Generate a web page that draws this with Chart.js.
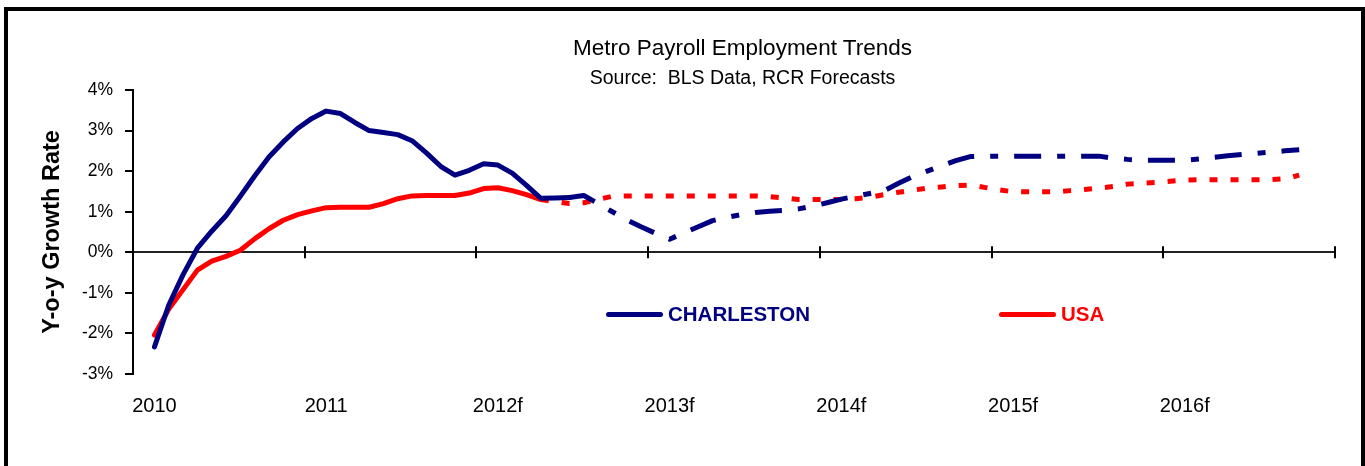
<!DOCTYPE html>
<html>
<head>
<meta charset="utf-8">
<title>Metro Payroll Employment Trends</title>
<script src="https://cdn.jsdelivr.net/npm/chart.js@4/dist/chart.umd.min.js"></script>
<style>
  html, body { margin: 0; padding: 0; background: #fff; overflow: hidden; }
  #wrap { position: relative; width: 1365px; height: 466px; font-family: "Liberation Sans", Arial, sans-serif; }
  #frame { position: absolute; left: 4px; top: 7px; width: 1353px; height: 520px; border: 4px solid #000; }
  #chart { position: absolute; left: 0; top: 0; }
  .head { position: absolute; left: 0; width: 1485px; text-align: center; color: #000; white-space: pre; }
  #title { top: 35px; font-size: 22.5px; }
  #subtitle { top: 66px; font-size: 19.5px; }
  .leg { position: absolute; display: flex; align-items: center; font-weight: bold; font-size: 20.5px; }
  .leg .sw { display: inline-block; width: 57px; height: 5px; border-radius: 3px; margin-right: 5px; }
</style>
</head>
<body>
<div id="wrap">
  <div id="frame"></div>
  <canvas id="chart" width="1365" height="466"></canvas>
  <div id="title" class="head">Metro Payroll Employment Trends</div>
  <div id="subtitle" class="head">Source:  BLS Data, RCR Forecasts</div>
  <div id="legend"></div>
</div>
<script>
// years on the axis, monthly categories
var years = ['2010', '2011', '2012', '2013', '2014', '2015', '2016'];
var yearLabels = ['2010', '2011', '2012f', '2013f', '2014f', '2015f', '2016f'];
var monthNames = ['Jan','Feb','Mar','Apr','May','Jun','Jul','Aug','Sep','Oct','Nov','Dec'];
var yTicks = [-3, -2, -1, 0, 1, 2, 3, 4];

// y-o-y growth %, one row per year (Jan..Dec)
var charleston = [
  null, -2.33, -1.30, -0.55, 0.10, 0.52, 0.90, 1.38, 1.88, 2.35, 2.72, 3.05,
  3.30, 3.48, 3.42, 3.20, 3.00, 2.95, 2.90, 2.75, 2.45, 2.12, 1.90, 2.02,
  2.18, 2.15, 1.95, 1.65, 1.33, 1.34, 1.35, 1.40, 1.20, 1.00, 0.80, 0.63,
  0.47, 0.32, 0.48, 0.63, 0.78, 0.86, 0.93, 0.98, 1.01, 1.03, 1.07, 1.14,
  1.22, 1.31, 1.38, 1.45, 1.52, 1.70, 1.87, 2.00, 2.13, 2.26, 2.36, 2.37,
  2.37, 2.37, 2.37, 2.37, 2.37, 2.37, 2.37, 2.37, 2.32, 2.29, 2.27, 2.27,
  2.27, 2.27, 2.30, 2.34, 2.38, 2.41, 2.44, 2.47, 2.50, 2.53, null, null
];
var usa = [
  null, -2.04, -1.40, -0.92, -0.44, -0.22, -0.10, 0.05, 0.33, 0.58, 0.79, 0.93,
  1.02, 1.10, 1.11, 1.11, 1.11, 1.20, 1.32, 1.39, 1.40, 1.40, 1.40, 1.46,
  1.57, 1.59, 1.52, 1.42, 1.30, 1.25, 1.20, 1.22, 1.30, 1.38, 1.39, 1.39,
  1.39, 1.39, 1.39, 1.39, 1.39, 1.39, 1.39, 1.39, 1.37, 1.34, 1.30, 1.30,
  1.30, 1.30, 1.32, 1.36, 1.42, 1.48, 1.53, 1.58, 1.61, 1.64, 1.66, 1.60,
  1.54, 1.49, 1.49, 1.49, 1.49, 1.52, 1.55, 1.58, 1.62, 1.68, 1.70, 1.72,
  1.75, 1.78, 1.79, 1.79, 1.79, 1.79, 1.79, 1.79, 1.81, 1.90, null, null
];
// forecast starts after these months
var charlestonForecastFrom = 30;
var usaForecastFrom = 28;

var months = [];
years.forEach(function (y) {
  monthNames.forEach(function (m) { months.push(m + ' ' + y); });
});

var FONT = 'Liberation Sans';

// zero axis with cross tick marks every year
var crossTicks = {
  id: 'crossTicks',
  beforeDatasetsDraw: function (chart) {
    var xs = chart.scales.x, ys = chart.scales.y, c = chart.ctx;
    var y0 = ys.getPixelForValue(0);
    var step = xs.getPixelForValue(1) - xs.getPixelForValue(0);
    var start = xs.getPixelForValue(0) - step / 2;
    c.save();
    c.strokeStyle = '#000';
    c.lineWidth = 2;
    for (var k = 1; k <= years.length; k++) {
      var px = Math.round(start + k * 12 * step);
      c.beginPath();
      c.moveTo(px, y0 - 6);
      c.lineTo(px, y0 + 6);
      c.stroke();
    }
    c.restore();
  }
};

function forecastStyle(from, dash) {
  return {
    borderDash: function (ctx) { return ctx.p0DataIndex >= from ? dash : undefined; },
    borderCapStyle: function (ctx) { return ctx.p0DataIndex >= from ? 'butt' : undefined; }
  };
}

var chart = new Chart(document.getElementById('chart'), {
  type: 'line',
  data: {
    labels: months,
    datasets: [
      {
        label: 'CHARLESTON',
        data: charleston,
        borderColor: '#000080',
        backgroundColor: '#000080',
        borderWidth: 5,
        pointRadius: 0,
        tension: 0,
        borderJoinStyle: 'round',
        borderCapStyle: 'round',
        segment: forecastStyle(charlestonForecastFrom, [27, 16, 8, 16])
      },
      {
        label: 'USA',
        data: usa,
        borderColor: '#ff0000',
        backgroundColor: '#ff0000',
        borderWidth: 5,
        pointRadius: 0,
        tension: 0,
        borderJoinStyle: 'round',
        borderCapStyle: 'round',
        segment: forecastStyle(usaForecastFrom, [8, 13])
      }
    ]
  },
  options: {
    responsive: false,
    animation: false,
    devicePixelRatio: 1,
    layout: { padding: { left: 38, right: 30, top: 90, bottom: 0 } },
    plugins: {
      legend: { display: false },
      tooltip: { enabled: false }
    },
    scales: {
      x: {
        type: 'category',
        offset: true,
        afterFit: function (s) { s.height = 92; },
        border: { display: false },
        grid: { display: false, drawTicks: false, offset: true },
        ticks: {
          autoSkip: false,
          maxRotation: 0,
          minRotation: 0,
          padding: 20,
          color: '#000',
          font: { family: FONT, size: 20 },
          callback: function (v, i) { return i % 12 === 1 ? yearLabels[(i - 1) / 12] : ''; }
        }
      },
      y: {
        min: -3,
        max: 4,
        afterBuildTicks: function (s) { s.ticks = yTicks.map(function (v) { return { value: v }; }); },
        afterFit: function (s) { s.width = 95; },
        border: { display: true, color: '#000', width: 2 },
        grid: {
          color: function (ctx) { return ctx.tick && ctx.tick.value === 0 ? '#222' : 'rgba(0,0,0,0)'; },
          lineWidth: 2,
          drawTicks: true,
          tickLength: 8,
          tickColor: '#000',
          tickWidth: 2
        },
        ticks: {
          color: '#000',
          padding: 12,
          font: { family: FONT, size: 17.5 },
          callback: function (v) { return v + '%'; }
        },
        title: {
          display: true,
          text: 'Y-o-y Growth Rate',
          color: '#000',
          padding: 0,
          font: { family: FONT, size: 23.5, weight: 'bold' }
        }
      }
    }
  },
  plugins: [crossTicks]
});

// legend inside the plot, like the original
var legendPos = [{ left: 606, top: 302 }, { left: 999, top: 302 }];
var legend = document.getElementById('legend');
chart.data.datasets.forEach(function (ds, i) {
  var item = document.createElement('div');
  item.className = 'leg';
  item.style.left = legendPos[i].left + 'px';
  item.style.top = legendPos[i].top + 'px';
  item.style.color = ds.borderColor;
  item.innerHTML = '<span class="sw" style="background:' + ds.borderColor + '"></span>' + ds.label;
  legend.appendChild(item);
});
</script>
</body>
</html>
